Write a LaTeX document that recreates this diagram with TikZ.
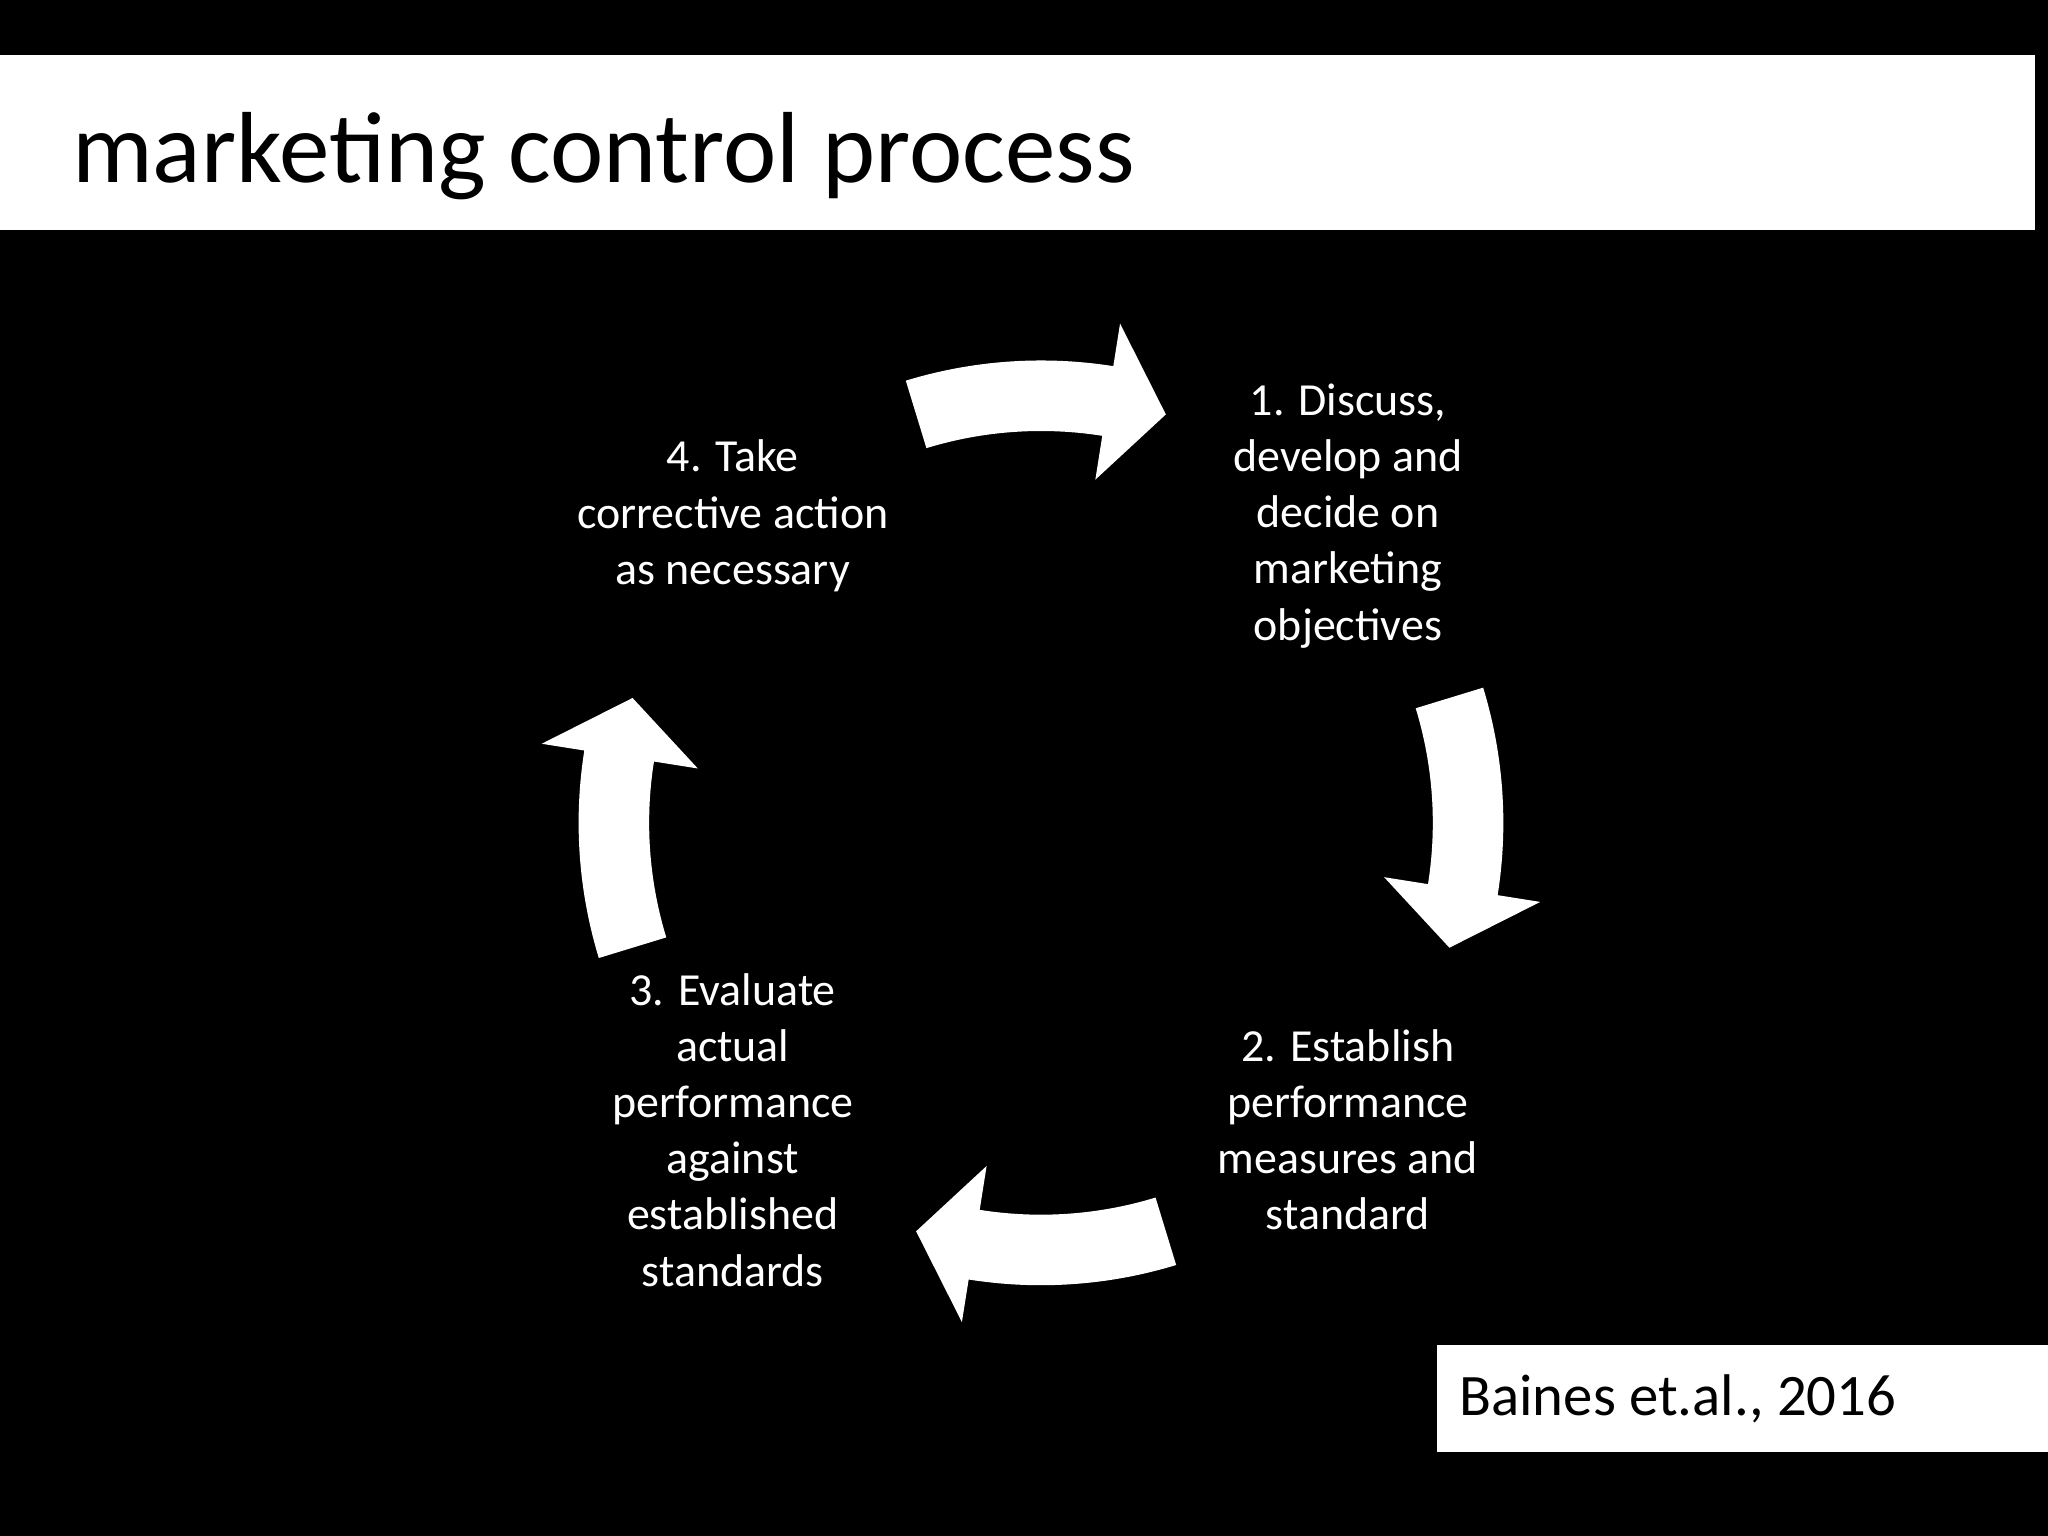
\documentclass[tikz,border=0pt]{standalone}
\usepackage{fontspec}
\setmainfont{Carlito}
\usetikzlibrary{calc}
\begin{document}
\begin{tikzpicture}[x=0.025cm,y=0.025cm,
  lbl/.style={text=white,align=center,font=\fontsize{25}{30.6}\selectfont,inner sep=0},
  arr/.style={fill=white}]
\useasboundingbox[fill=black] (0,0) rectangle (1568,1176);
\fill[white] (0,1000) rectangle (1558,1134);
\node[anchor=base west,inner sep=0,font=\fontsize{55}{60}\selectfont] (title) at (55,1036) {marketing control process};
\fill[white] (1100,64) rectangle (1568,146);
\node[anchor=west,inner sep=0,font=\fontsize{32}{36}\selectfont] (cite) at (1117,105) {Baines et.al., 2016};
\coordinate (c) at (797,546);
\foreach \a in {107,17,-73,-163}{
  \pgfmathsetmacro{\b}{\a-26}
  \pgfmathsetmacro{\t}{\a-34}
  \fill[arr] ($(c)+(\a:354)$) arc[start angle=\a,end angle=\b,radius=354]
    -- ($(c)+(\b:387)$) -- ($(c)+(\t:327)$) -- ($(c)+(\b:266)$) -- ($(c)+(\b:300)$)
    arc[start angle=\b,end angle=\a,radius=300] -- cycle;
}
\node[lbl] (n1) at (1032,781) {1. Discuss,\\develop and\\decide on\\marketing\\objectives};
\node[lbl] (n2) at (1032,311) {2. Establish\\performance\\measures and\\standard};
\node[lbl] (n3) at (561,311) {3. Evaluate\\actual\\performance\\against\\established\\standards};
\node[lbl] (n4) at (561,781) {4. Take\\corrective action\\as necessary};
\end{tikzpicture}
\end{document}
